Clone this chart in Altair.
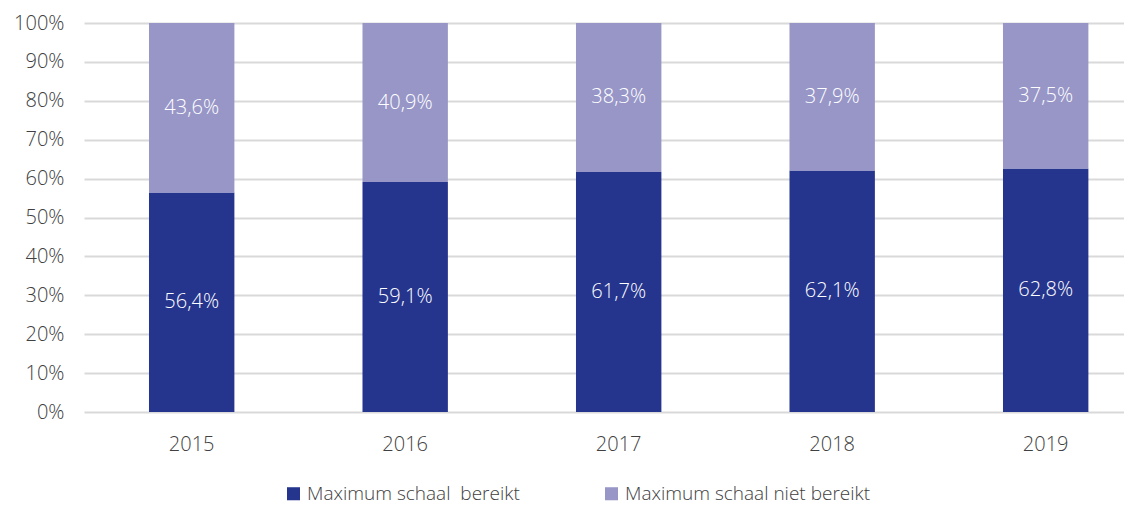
import altair as alt
import pandas as pd

years = ["2015", "2016", "2017", "2018", "2019"]
bereikt = [56.4, 59.1, 61.7, 62.1, 62.8]
niet_bereikt = [43.6, 40.9, 38.3, 37.9, 37.5]
series = ["Maximum schaal\u00a0 bereikt", "Maximum schaal niet bereikt"]
colors = ["#25358E", "#9796C7"]
tick_values = [0.0, 0.1, 0.2, 0.3, 0.4, 0.5, 0.6, 0.7, 0.8, 0.9, 1.0]

rows = []
for i, y in enumerate(years):
    rows.append({"year": y, "series": series[0], "value": bereikt[i], "ord": 0})
    rows.append({"year": y, "series": series[1], "value": niet_bereikt[i], "ord": 1})
df = pd.DataFrame(rows)

FONT = "Open Sans"
W = 300

base = alt.Chart(df).transform_joinaggregate(
    total="sum(value)", groupby=["year"]
).transform_calculate(
    frac="datum.value / datum.total"
).transform_stack(
    stack="frac", groupby=["year"], as_=["y0", "y1"], sort=[alt.SortField("ord", order="ascending")]
).transform_calculate(
    mid="(datum.y0 + datum.y1) / 2",
    label="replace(format(datum.value, '.1f'), '.', ',') + '%'"
)

x_axis = alt.Axis(labelAngle=0, ticks=False, domain=False, labelPadding=22,
                  labelFontSize=20, labelColor="#404040", labelFont=FONT, labelFontWeight=W)
x_scale = alt.Scale(paddingInner=0.6, paddingOuter=0.2356, align=0.646)
y_axis = alt.Axis(values=tick_values, format=".0%", ticks=False, domain=False,
                  labelOverlap=False, labelPadding=20, labelFontSize=20, labelColor="#404040",
                  labelFont=FONT, labelFontWeight=W, gridColor="#D9D9D9", gridWidth=2)
y_scale = alt.Scale(domain=[0, 1], nice=False)

bars = base.mark_bar().encode(
    x=alt.X("year:N", title=None, scale=x_scale, axis=x_axis),
    y=alt.Y("y0:Q", title=None, scale=y_scale, axis=y_axis),
    y2="y1:Q",
    color=alt.Color(
        "series:N",
        title=None,
        scale=alt.Scale(domain=series, range=colors),
        legend=alt.Legend(orient="none", legendX=200, legendY=461, direction="horizontal",
                          symbolType="square", symbolSize=170, symbolStrokeWidth=0,
                          labelFontSize=19, labelFont=FONT, labelFontWeight=W,
                          labelColor="#404040", columnPadding=82, labelLimit=400),
    ),
)

texts = base.mark_text(color="white", fontSize=20, font=FONT, fontWeight=W).encode(
    x=alt.X("year:N", title=None, scale=x_scale, axis=x_axis),
    y=alt.Y("mid:Q", title=None, scale=y_scale, axis=y_axis),
    text="label:N",
)

chart = alt.layer(bars, texts).properties(
    width=1040, height=389, padding={"left": 5, "top": 5, "right": 0, "bottom": 5}
).configure_view(stroke=None)

chart.save("out.html", embed_options={"renderer": "svg", "actions": False})
